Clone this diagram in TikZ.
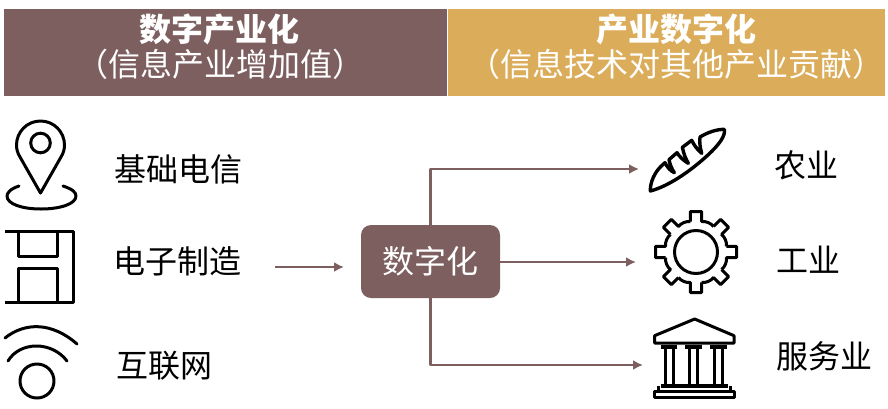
\documentclass[tikz,border=0pt]{standalone}
\usepackage{fontspec}
\usepackage{tikz}
\usetikzlibrary{arrows.meta, positioning}
\setmainfont{Noto Sans CJK SC}
\definecolor{brownbar}{HTML}{7D5F5F}
\definecolor{goldbar}{HTML}{DBAC59}

\begin{document}
\begin{tikzpicture}[x=1pt, y=-1pt, line join=round,
        bar/.style={rectangle, inner sep=0pt, minimum height=87pt},
        head/.style={text=white, inner sep=0pt, font=\fontsize{32}{32}\selectfont\bfseries},
        sub/.style={text=white, inner sep=0pt, font=\fontsize{32}{32}\selectfont},
        lbl/.style={text=black, inner sep=0pt, font=\fontsize{32}{32}\selectfont},
        digibox/.style={rectangle, rounded corners=10pt, fill=brownbar, text=white, inner sep=0pt, minimum width=139pt, minimum height=73pt, font=\fontsize{32}{32}\selectfont},
        flow/.style={draw=brownbar, line width=2.4pt, -{Latex[length=10pt, width=10pt]}},
        icon/.style={draw=black, line width=3pt}]
                \useasboundingbox (0,0) rectangle (888,408);
                \node[bar, fill=brownbar, minimum width=443pt](barL) at (225.5,52.5){};
                \node[bar, fill=goldbar, minimum width=437pt, right=1pt of barL](barR){};
                \node[head](headL) at (219.5,29){数字产业化};
                \node[sub](subL) at (220,64){（信息产业增加值）};
                \node[head](headR) at (676,29){产业数字化};
                \node[sub](subR) at (676,64){（信息技术对其他产业贡献）};
                \node[lbl](telecom) at (178,169){基础电信};
                \node[lbl](making) at (177,261){电子制造};
                \node[lbl](web) at (164,366){互联网};
                \node[lbl](farm) at (806,165){农业};
                \node[lbl](industry) at (808,260){工业};
                \node[lbl](service) at (824,356){服务业};
                \node[digibox](digi) at (430.5,261.5){数字化};
                \coordinate (inL) at (275,267);
                \coordinate[right=69pt of inL](inR);
                \coordinate (toFarm) at (639,169);
                \coordinate (toInd) at (636,262);
                \coordinate (toServ) at (643,365);
                \draw[flow] (inL) -- (inR);
                \draw[flow] (digi.north) |- (toFarm);
                \draw[flow] (digi.east |- toInd) -- (toInd);
                \draw[flow] (digi.south) |- (toServ);
                \draw[icon] (40.5,193) -- (20,157) .. controls (17.5,153) and (16.5,149) .. (16.5,145)
                    .. controls (16.5,132) and (27,121) .. (40.5,121) .. controls (54,121) and (64.5,132) .. (64.5,145)
                    .. controls (64.5,149) and (63.5,153) .. (61,157) -- cycle;
                \draw[icon] (40.5,143) circle (9.8);
                \draw[icon, line cap=round] (19,186) .. controls (10,189) and (7,193) .. (7,196)
                    .. controls (7,204) and (22,209) .. (41,209) .. controls (60,209) and (76,204) .. (76,196)
                    .. controls (76,192) and (72,189) .. (63,186);
                \draw[icon] (5,231) -- (73,231) -- (73,302) -- (5,302);
                \draw[icon] (18,231) -- (18,256) -- (57,256) -- (57,231);
                \draw[icon] (18,302) -- (18,268) -- (57,268) -- (57,302);
                \draw[icon, line cap=round] (5,338) .. controls (25,322) and (52,322) .. (77,344);
                \draw[icon, line cap=round] (8,361) .. controls (20,341) and (52,341) .. (67,361);
                \draw[icon] (37,381) circle (17);
                \begin{scope}[shift={(645,122)}, scale=0.3333]
                    \draw[icon, line width=3.4pt] (16,207) .. controls (15,180) and (30,150) .. (48,133) -- (60,122)
                        .. controls (68,138) and (76,146) .. (88,152) .. controls (80,140) and (75,128) .. (72,113) -- (96,92)
                        .. controls (104,105) and (116,116) .. (130,124) .. controls (122,110) and (116,95) .. (112,76) -- (140,55)
                        .. controls (148,70) and (156,82) .. (170,94) .. controls (165,75) and (163,60) .. (165,45)
                        .. controls (190,30) and (215,22) .. (238,22) .. controls (242,40) and (225,65) .. (190,98)
                        .. controls (150,135) and (80,190) .. (16,207) -- cycle;
                \end{scope}
                \begin{scope}[shift={(696,252)}]
                    \draw[icon] (0,0) circle (21.5);
                    \foreach \a in {0,45,...,315}{
                        \draw[icon, rotate=\a] (-10.6:31) -- (40.5,-5.7) -- (40.5,5.7) -- (10.6:31)
                            .. controls (18:32.5) and (27:32.5) .. (34.4:31);
                    }
                \end{scope}
                \begin{scope}[shift={(648,315)}, scale=0.3333]
                    \draw[icon] (140,12) -- (20,62) -- (20,84) -- (258,84) -- (258,62) -- cycle;
                    \foreach \cx in {63,137,212}{
                        \draw[icon, line width=4pt] (\cx-25,96) -- (\cx+25,96);
                        \draw[icon] (\cx-12,96) -- (\cx-12,212);
                        \draw[icon] (\cx+12,96) -- (\cx+12,212);
                    }
                    \draw[icon, line width=4pt] (38,213) -- (240,213);
                    \draw[icon] (32,213) -- (32,228);
                    \draw[icon] (246,213) -- (246,228);
                    \draw[icon] (18,228) -- (258,228) -- (258,247) -- (18,247) -- cycle;
                \end{scope}
            \end{tikzpicture}
\end{document}
